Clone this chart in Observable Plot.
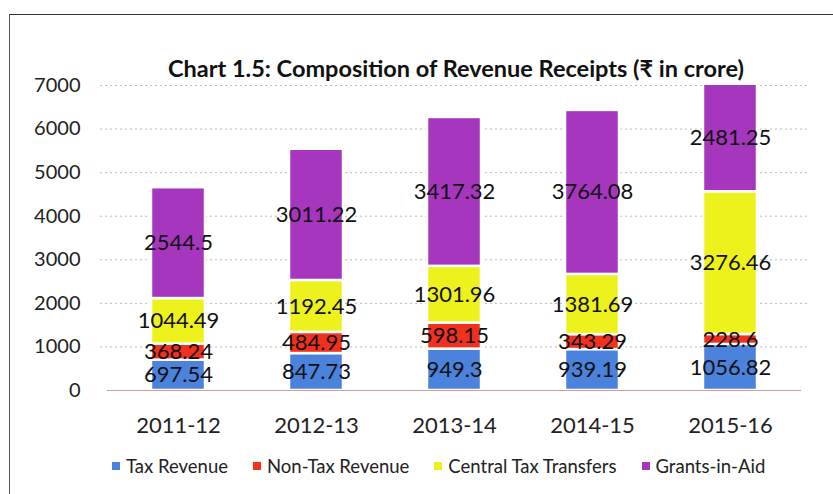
<!DOCTYPE html>
<html>
<head>
<meta charset="utf-8">
<script src="https://cdn.jsdelivr.net/npm/d3@7"></script>
<script src="https://cdn.jsdelivr.net/npm/@observablehq/plot@0.6"></script>
<style>
  html, body { margin: 0; padding: 0; background: #fff; }
  #wrap { position: relative; width: 833px; height: 494px; overflow: hidden; font-family: Lato, "Open Sans", sans-serif; }
  #frame { position: absolute; left: 9px; top: 14px; width: 900px; height: 600px; border-top: 1.5px solid #333; border-left: 1.5px solid #555; }
  #title { position: absolute; left: 6px; width: 900px; top: 54px; text-align: center; font-weight: bold; font-size: 23.5px; color: #111; }
  #chart { position: absolute; left: 0; top: 0; }
  #legend { position: absolute; top: 455px; left: 112px; display: flex; gap: 25px; font-size: 18.5px; color: #222; white-space: nowrap; }
  #legend span.sw { display: inline-block; width: 8px; height: 8px; margin-right: 6px; vertical-align: 3px; }
</style>
</head>
<body>
<div id="wrap">
  <div id="frame"></div>
  <div id="chart"></div>
  <div id="title"></div>
  <div id="legend"></div>
</div>
<script>
const titleText = "Chart 1.5: Composition of Revenue Receipts (₹ in crore)";
const years = ["2011-12", "2012-13", "2013-14", "2014-15", "2015-16"];
const seriesNames = ["Tax Revenue", "Non-Tax Revenue", "Central Tax Transfers", "Grants-in-Aid"];
const taxRevenue = [697.54, 847.73, 949.3, 939.19, 1056.82];
const nonTaxRevenue = [368.24, 484.95, 598.15, 343.29, 228.6];
const centralTaxTransfers = [1044.49, 1192.45, 1301.96, 1381.69, 3276.46];
const grantsInAid = [2544.5, 3011.22, 3417.32, 3764.08, 2481.25];
const yTicks = [0, 1000, 2000, 3000, 4000, 5000, 6000, 7000];
const colors = ["#4a82dc", "#f2301e", "#eef21c", "#a636bd"];

const seriesValues = [taxRevenue, nonTaxRevenue, centralTaxTransfers, grantsInAid];
const data = [];
seriesNames.forEach((s, i) => years.forEach((y, j) => data.push({year: y, series: s, value: seriesValues[i][j]})));

document.getElementById("title").textContent = titleText;

const chart = Plot.plot({
  width: 833,
  height: 494,
  marginLeft: 107,
  marginRight: 32,
  marginTop: 85,
  marginBottom: 104,
  style: {fontFamily: "Lato, 'Open Sans', sans-serif", fontSize: "20px", color: "#222", background: "transparent"},
  x: {domain: years, paddingInner: 0.61, paddingOuter: 0.305, label: null, tickSize: 0, tickPadding: 27},
  y: {domain: [0, 7000], ticks: yTicks, label: null, tickSize: 0, tickPadding: 27, tickFormat: d => String(d)},
  color: {domain: seriesNames, range: colors},
  marks: [
    Plot.ruleY(yTicks.filter(d => d > 0), {stroke: "#bbb", strokeDasharray: "2,3", strokeWidth: 1, insetLeft: -7, insetRight: -7}),
    Plot.barY(data, {x: "year", y: "value", fill: "series", order: seriesNames, stroke: "#fff", strokeWidth: 2.5, clip: true}),
    Plot.ruleY([0], {stroke: "#d09a9a", strokeWidth: 1.2}),
    Plot.text(data, Plot.stackY({x: "year", y: "value", z: "series", order: seriesNames, text: d => String(d.value), fill: "#111", fontSize: 22}))
  ]
});
chart.querySelectorAll('g[aria-label="x-axis tick label"] text').forEach(t => t.setAttribute("font-size", "22"));
document.getElementById("chart").appendChild(chart);

const legend = document.getElementById("legend");
seriesNames.forEach((s, i) => {
  const item = document.createElement("div");
  const sw = document.createElement("span");
  sw.className = "sw";
  sw.style.background = colors[i];
  item.appendChild(sw);
  item.appendChild(document.createTextNode(s));
  legend.appendChild(item);
});
</script>
</body>
</html>
